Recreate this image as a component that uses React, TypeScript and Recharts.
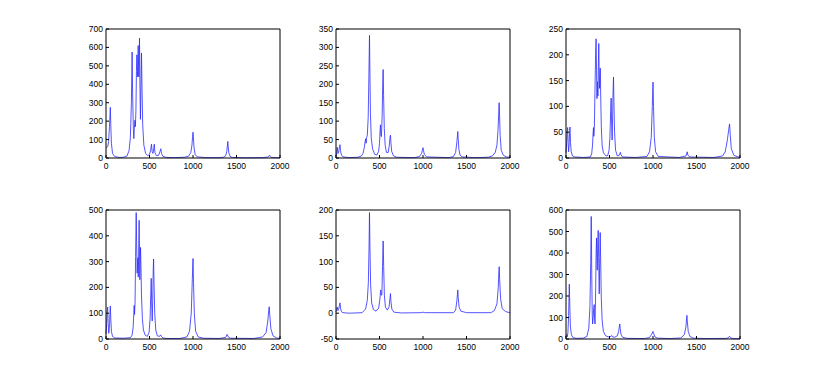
import { LineChart, Line, XAxis, YAxis } from "recharts";

// frequency / amplitude pairs
const panel1: [number, number][] = [
  [0, 55], [10, 58], [20, 62], [30, 90], [40, 170], [50, 275], [55, 180], [62, 80], [75, 25], [100, 8],
  [150, 3], [200, 4], [240, 10], [265, 40], [280, 110], [292, 300], [300, 575], [306, 350], [315, 150],
  [320, 105], [326, 160], [332, 205], [338, 170], [344, 260], [350, 470], [355, 560], [360, 480],
  [364, 440], [370, 610], [374, 500], [378, 440], [385, 650], [390, 400], [396, 210], [402, 400],
  [408, 570], [414, 380], [422, 180], [435, 70], [455, 25], [480, 12], [500, 20], [512, 40], [523, 75],
  [530, 35], [540, 25], [548, 50], [555, 75], [562, 30], [580, 12], [605, 15], [620, 35], [630, 50],
  [638, 25], [655, 8], [700, 3], [800, 2], [900, 4], [950, 10], [975, 30], [988, 70], [995, 115],
  [1000, 140], [1005, 110], [1012, 55], [1025, 18], [1050, 6], [1150, 2], [1300, 2], [1350, 4],
  [1375, 12], [1388, 35], [1395, 65], [1400, 90], [1405, 60], [1412, 28], [1425, 9], [1450, 3],
  [1600, 1], [1800, 2], [1860, 5], [1875, 12], [1880, 15], [1885, 10], [1900, 3], [2000, 1],
];

const panel2: [number, number][] = [
  [0, 5], [8, 15], [15, 29], [22, 12], [30, 15], [40, 30], [46, 36], [52, 20], [62, 8], [80, 3],
  [150, 1], [250, 2], [290, 5], [310, 12], [325, 28], [335, 45], [340, 52], [346, 40], [352, 55],
  [360, 62], [370, 110], [378, 220], [385, 333], [390, 230], [396, 120], [405, 55], [420, 25],
  [445, 10], [470, 8], [490, 18], [500, 40], [507, 75], [511, 90], [516, 62], [522, 58], [530, 110],
  [537, 200], [542, 240], [547, 170], [555, 80], [565, 35], [580, 15], [600, 15], [613, 35], [620, 55],
  [626, 62], [632, 40], [640, 18], [660, 6], [700, 2], [900, 1], [960, 4], [985, 13], [995, 24],
  [1000, 28], [1005, 22], [1015, 10], [1040, 3], [1300, 1], [1350, 4], [1375, 15], [1390, 45],
  [1400, 72], [1405, 50], [1412, 25], [1425, 8], [1450, 3], [1600, 1], [1750, 2], [1800, 6],
  [1830, 15], [1850, 35], [1862, 75], [1870, 120], [1875, 150], [1880, 115], [1887, 60], [1900, 20],
  [1925, 7], [1960, 3], [2000, 2],
];

const panel3: [number, number][] = [
  [0, 10], [8, 30], [15, 55], [19, 59], [24, 30], [30, 12], [36, 25], [42, 55], [46, 60], [52, 30],
  [60, 12], [75, 4], [100, 2], [200, 1], [280, 2], [295, 8], [305, 25], [312, 50], [316, 59], [320, 42],
  [326, 60], [333, 130], [340, 200], [346, 231], [351, 170], [356, 115], [362, 148], [367, 120],
  [372, 180], [377, 222], [381, 170], [385, 135], [390, 160], [394, 174], [399, 120], [406, 60],
  [415, 25], [430, 10], [460, 4], [480, 5], [495, 15], [505, 40], [513, 90], [519, 116], [524, 70],
  [530, 35], [536, 80], [541, 130], [546, 157], [551, 110], [558, 50], [570, 15], [590, 4], [610, 5],
  [620, 9], [625, 11], [632, 6], [650, 2], [800, 1], [930, 3], [960, 12], [980, 40], [992, 100],
  [1000, 147], [1006, 100], [1015, 40], [1030, 12], [1060, 3], [1300, 1], [1380, 4], [1393, 12],
  [1400, 6], [1420, 2], [1700, 1], [1800, 4], [1830, 12], [1855, 35], [1870, 55], [1880, 66],
  [1888, 45], [1900, 18], [1930, 5], [2000, 1],
];

const panel4: [number, number][] = [
  [0, 20], [8, 60], [14, 110], [19, 124], [25, 60], [32, 22], [40, 50], [46, 110], [50, 128], [55, 80],
  [62, 30], [75, 10], [100, 4], [200, 3], [280, 5], [300, 15], [312, 45], [320, 100], [324, 130],
  [328, 95], [334, 140], [340, 320], [347, 490], [352, 380], [358, 255], [363, 300], [367, 315],
  [371, 240], [375, 330], [381, 460], [385, 340], [389, 230], [393, 300], [397, 355], [402, 280],
  [408, 170], [418, 80], [430, 35], [450, 15], [475, 10], [495, 25], [507, 80], [515, 180], [520, 235],
  [525, 140], [531, 70], [537, 150], [543, 270], [547, 310], [552, 220], [560, 100], [572, 35],
  [590, 12], [615, 10], [628, 16], [636, 10], [655, 4], [700, 2], [850, 2], [930, 8], [960, 30],
  [980, 100], [992, 230], [1000, 312], [1006, 220], [1015, 100], [1030, 30], [1060, 8], [1120, 3],
  [1300, 2], [1375, 6], [1393, 18], [1405, 8], [1430, 3], [1700, 2], [1800, 8], [1840, 25],
  [1860, 70], [1870, 110], [1876, 125], [1882, 95], [1895, 40], [1920, 12], [1960, 4], [2000, 2],
];

const panel5: [number, number][] = [
  [0, 3], [8, 8], [15, 12], [22, 5], [32, 8], [40, 16], [46, 20], [52, 10], [62, 3], [80, 1],
  [150, 0], [300, 1], [340, 8], [360, 25], [372, 60], [380, 130], [385, 195], [390, 130], [398, 55],
  [410, 20], [430, 7], [460, 4], [490, 10], [503, 25], [512, 42], [515, 45], [520, 35], [527, 35],
  [535, 90], [542, 140], [548, 90], [556, 35], [568, 12], [590, 6], [610, 12], [620, 28], [626, 38],
  [632, 22], [642, 8], [665, 2], [750, 0.5], [980, 1], [1000, 2], [1020, 1], [1350, 1], [1375, 6],
  [1390, 25], [1400, 45], [1405, 30], [1415, 12], [1435, 4], [1500, 1], [1780, 1], [1820, 5],
  [1850, 18], [1865, 50], [1872, 80], [1876, 90], [1881, 65], [1892, 28], [1910, 9], [1950, 3],
  [2000, 1],
];

const panel6: [number, number][] = [
  [0, 8], [5, 15], [8, 20], [14, 10], [22, 30], [30, 110], [35, 200], [38, 255], [43, 170], [50, 60],
  [62, 20], [80, 6], [120, 3], [200, 4], [240, 12], [262, 50], [275, 150], [284, 350], [290, 570],
  [296, 300], [302, 110], [306, 70], [312, 100], [318, 140], [324, 160], [329, 90], [334, 70],
  [340, 200], [346, 400], [351, 470], [355, 380], [359, 320], [364, 420], [370, 505], [375, 380],
  [382, 210], [387, 350], [393, 495], [398, 380], [405, 200], [415, 90], [430, 35], [455, 15],
  [490, 10], [515, 12], [527, 16], [535, 10], [560, 8], [590, 15], [605, 35], [614, 60], [618, 70],
  [623, 50], [632, 22], [650, 8], [700, 3], [900, 2], [960, 7], [985, 22], [1000, 35], [1008, 25],
  [1022, 10], [1050, 4], [1200, 2], [1320, 5], [1360, 20], [1378, 55], [1386, 95], [1390, 110],
  [1395, 80], [1405, 35], [1425, 12], [1460, 4], [1600, 2], [1850, 3], [1875, 10], [1882, 12],
  [1890, 6], [1920, 2], [2000, 1],
];

const xTicks = [0, 500, 1000, 1500, 2000];
const yTicks1 = [0, 100, 200, 300, 400, 500, 600, 700];
const yTicks2 = [0, 50, 100, 150, 200, 250, 300, 350];
const yTicks3 = [0, 50, 100, 150, 200, 250];
const yTicks4 = [0, 100, 200, 300, 400, 500];
const yTicks5 = [-50, 0, 50, 100, 150, 200];
const yTicks6 = [0, 100, 200, 300, 400, 500, 600];

const panels = [
  { data: panel1, ticks: yTicks1, left: 66, top: 19 },
  { data: panel2, ticks: yTicks2, left: 296, top: 19 },
  { data: panel3, ticks: yTicks3, left: 526, top: 19 },
  { data: panel4, ticks: yTicks4, left: 66, top: 200 },
  { data: panel5, ticks: yTicks5, left: 296, top: 200 },
  { data: panel6, ticks: yTicks6, left: 526, top: 200 },
];

const tickFont = { fontSize: 8.5, fill: "#000", fontFamily: "'Liberation Sans', Arial, sans-serif" };

function Panel({ data, ticks, left, top }: { data: [number, number][]; ticks: number[]; left: number; top: number }) {
  const rows = data.map(([x, y]) => ({ x, y }));
  const domain: [number, number] = [ticks[0], ticks[ticks.length - 1]];
  return (
    <div style={{ position: "absolute", left, top }}>
      <LineChart width={229} height={164} data={rows} margin={{ top: 9, right: 14, bottom: 0, left: 0 }}>
        <XAxis
          dataKey="x"
          type="number"
          domain={[0, 2000]}
          ticks={xTicks}
          interval={0}
          height={25}
          tickSize={-3}
          tickMargin={8}
          tick={tickFont}
          stroke="#000"
        />
        <XAxis
          xAxisId="top"
          orientation="top"
          dataKey="x"
          type="number"
          domain={[0, 2000]}
          ticks={xTicks}
          interval={0}
          height={1}
          tickSize={-3}
          tick={false}
          stroke="#000"
        />
        <YAxis
          type="number"
          domain={domain}
          ticks={ticks}
          interval={0}
          width={40}
          tickSize={-3}
          tickMargin={6}
          tick={tickFont}
          stroke="#000"
        />
        <YAxis
          yAxisId="right"
          orientation="right"
          type="number"
          domain={domain}
          ticks={ticks}
          interval={0}
          width={1}
          tickSize={-3}
          tick={false}
          stroke="#000"
        />
        {/* invisible twin so the box axes on top and right get drawn */}
        <Line
          xAxisId="top"
          yAxisId="right"
          dataKey="y"
          stroke="none"
          dot={false}
          activeDot={false}
          isAnimationActive={false}
        />
        <Line
          dataKey="y"
          type="linear"
          stroke="#2a2aff"
          strokeWidth={0.8}
          dot={false}
          activeDot={false}
          isAnimationActive={false}
        />
      </LineChart>
    </div>
  );
}

export default function App() {
  return (
    <div style={{ position: "absolute", left: 0, top: 0, width: 817, height: 382, background: "#fff" }}>
      {panels.map((p, i) => (
        <Panel key={i} {...p} />
      ))}
    </div>
  );
}
